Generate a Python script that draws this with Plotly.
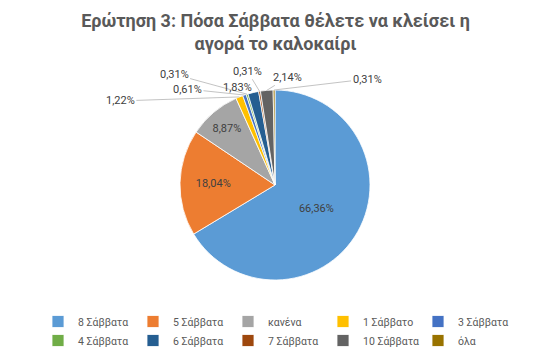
import math
import plotly.graph_objects as go

# ---- data ----
categories = ["8 Σάββατα", "5 Σάββατα", "κανένα", "1 Σάββατο", "3 Σάββατα",
              "4 Σάββατα", "6 Σάββατα", "7 Σάββατα", "10 Σάββατα", "όλα"]
values = [66.36, 18.04, 8.87, 1.22, 0.61, 0.31, 1.83, 0.31, 2.14, 0.31]
title_text = "Ερώτηση 3: Πόσα Σάββατα θέλετε να κλείσει η<br>αγορά το καλοκαίρι"

# ---- styles ----
colors = ["#5B9BD5", "#ED7D31", "#A5A5A5", "#FFC000", "#4472C4",
          "#70AD47", "#255E91", "#9E480E", "#636363", "#997300"]
FONT = "Roboto"
W, H = 551, 359
ML, MR, MT, MB = 35, 35, 0, 0
PW, PH = W - ML - MR, H - MT - MB
CX, CY, R = 275, 185, 95

total = sum(values)
labels = [f"{v / total * 100:.2f}".replace(".", ",") + "%" for v in values]
inside = [v / total >= 0.05 for v in values]
textpos = ["inside" if f else "none" for f in inside]

# offsets (px) of outside labels relative to slice edge
label_offsets = {3: (-119, 4), 4: (-57, -6), 5: (-73, -20), 6: (-16, -5),
                 7: (-12, -20), 8: (21, -13), 9: (93, -11)}

fig = go.Figure(go.Pie(
    labels=categories, values=values, sort=False, direction="clockwise",
    rotation=0, marker=dict(colors=colors, line=dict(color="white", width=0.8)),
    text=labels, texttemplate="%{text}", textposition=textpos,
    insidetextorientation="horizontal",
    insidetextfont=dict(family=FONT, size=11, color="#404040"),
    domain=dict(x=[(CX - R - ML) / PW, (CX + R - ML) / PW],
                y=[1 - (CY + R - MT) / PH, 1 - (CY - R - MT) / PH]),
    hoverinfo="label+value",
))

annotations = []
cum = 0.0
for i, v in enumerate(values):
    mid = (cum + v / 2) / total * 2 * math.pi
    cum += v
    if inside[i]:
        continue
    px = CX + R * math.sin(mid)
    py = CY - R * math.cos(mid)
    ax, ay = label_offsets[i]
    annotations.append(dict(
        x=(px - ML) / PW, y=1 - (py - MT) / PH, xref="paper", yref="paper",
        text=labels[i], showarrow=True, arrowhead=0, arrowwidth=0.8,
        arrowcolor="#B4B4B4", ax=ax, ay=ay, standoff=0,
        font=dict(family=FONT, size=11, color="#404040"),
    ))

fig.update_layout(
    width=W, height=H, margin=dict(l=ML, r=MR, t=MT, b=MB),
    paper_bgcolor="white", plot_bgcolor="white",
    title=dict(text=title_text, x=0.5, xref="container", xanchor="center",
               y=1 - 27 / H, yref="container", yanchor="middle",
               font=dict(family=FONT, size=18, color="#595959", weight="bold")),
    showlegend=True,
    legend=dict(orientation="h", x=0.5, xanchor="center", y=1 - 307 / PH,
                yanchor="top", entrywidth=50, entrywidthmode="pixels",
                font=dict(family=FONT, size=10.5, color="#595959"),
                traceorder="normal"),
    annotations=annotations,
)

fig.write_html("out.html", config={"displayModeBar": False},
               post_script="document.body.style.margin='0';")
